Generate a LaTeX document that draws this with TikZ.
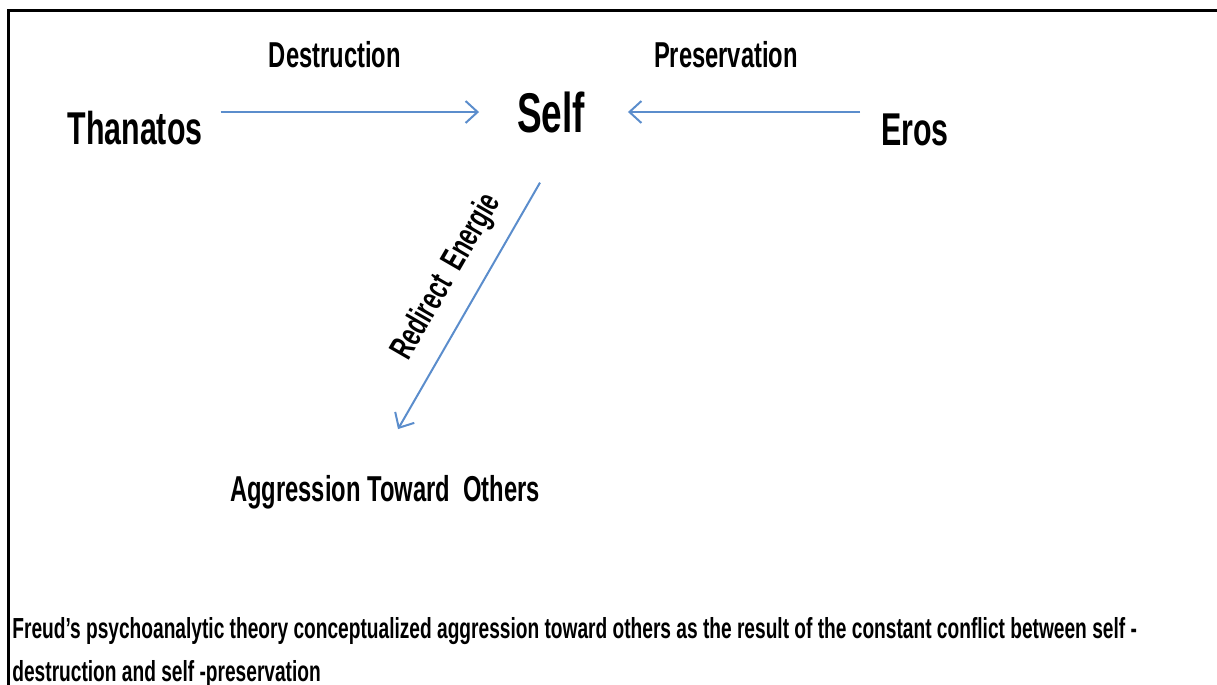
\documentclass[tikz,border=0pt]{standalone}
\usepackage{fontspec}
\setmainfont[FakeStretch=0.66]{Liberation Sans}
\usetikzlibrary{arrows.meta}
\definecolor{flowblue}{RGB}{91,141,204}

\begin{document}
\begin{tikzpicture}[x=0.5pt, y=-0.5pt,
    flow/.style={draw=flowblue, line width=1pt, -{Straight Barb[length=6pt, width=11pt]}},
    big/.style={font=\fontsize{23}{27}\selectfont\bfseries},
    small/.style={font=\fontsize{18}{22}\selectfont\bfseries},
    note/.style={font=\fontsize{14.5}{21.5}\selectfont\bfseries, align=left, inner sep=0pt}]
    \useasboundingbox (0,0) rectangle (1217,685);
    \draw[line width=1.5pt] (1217,10) -- (8,10) -- (8,685);
    \node[big] (thanatos) at (135,128) {Thanatos};
    \node[font=\fontsize{28}{32}\selectfont\bfseries] (self) at (551,112) {Self};
    \node[big] (eros) at (915,130) {Eros};
    \node[small] (destruction) at (335,55) {Destruction};
    \node[small] (preservation) at (726,55) {Preservation};
    \node[small] (aggression) at (385,492) {Aggression Toward\ \ Others};
    \node[font=\fontsize{17}{21}\selectfont\bfseries, rotate=60] (redirect) at (447,277) {Redirect\ \ Energie};
    \node[note, anchor=north west] (caption) at (12,617) {Freud’s psychoanalytic theory conceptualized aggression toward others as the result of the constant conflict between self -\\destruction and self -preservation};
    \draw[flow, shorten <=5.5pt, shorten >=15.5pt] (thanatos.east |- self.west) -- (self.west);
    \draw[flow, shorten <=7pt, shorten >=18pt] (eros.west |- self.east) -- (self.east);
    \draw[flow] ([xshift=-5.5pt, yshift=-21.5pt]self.south) -- ([xshift=6.5pt, yshift=19.5pt]aggression.north);
\end{tikzpicture}
\end{document}
